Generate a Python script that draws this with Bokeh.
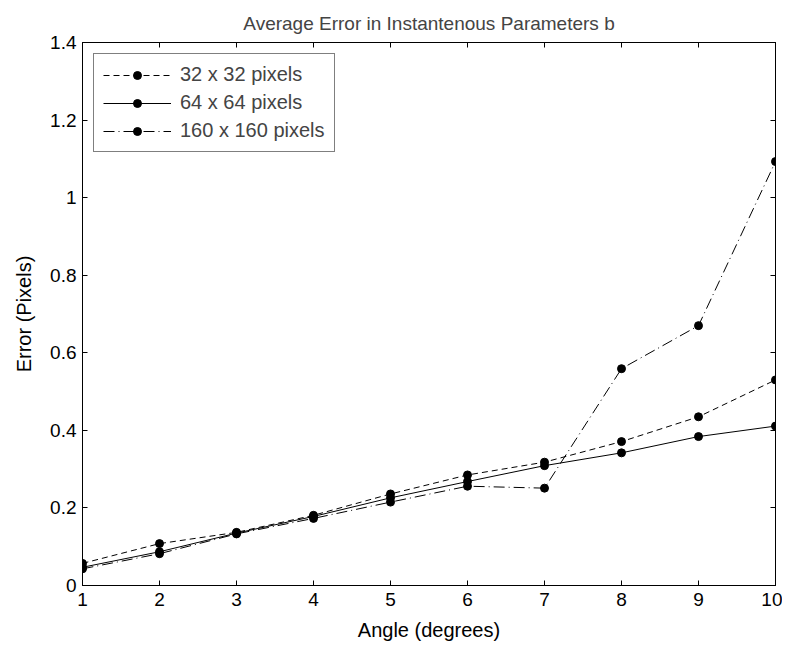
from bokeh.plotting import figure
from bokeh.models import LinearAxis, Range1d, FixedTicker, Legend, LegendItem
from bokeh.embed import file_html
from bokeh.resources import INLINE

angles = [1, 2, 3, 4, 5, 6, 7, 8, 9, 10]
err_32 = [0.057, 0.108, 0.137, 0.181, 0.236, 0.285, 0.318, 0.371, 0.435, 0.530]
err_64 = [0.047, 0.087, 0.135, 0.178, 0.226, 0.268, 0.309, 0.342, 0.384, 0.411]
err_160 = [0.043, 0.082, 0.133, 0.173, 0.215, 0.256, 0.251, 0.559, 0.670, 1.093]

x_ticks = [1, 2, 3, 4, 5, 6, 7, 8, 9, 10]
x_tick_labels = ["1", "2", "3", "4", "5", "6", "7", "8", "9", "10"]
y_ticks = [0, 0.2, 0.4, 0.6, 0.8, 1.0, 1.2, 1.4]
y_tick_labels = ["0", "0.2", "0.4", "0.6", "0.8", "1", "1.2", "1.4"]
title_text = "Average Error in Instantenous Parameters b"

FONT = "Liberation Sans"

p = figure(width=782, height=643, output_backend="svg", toolbar_location=None,
           x_range=Range1d(1, 10), y_range=Range1d(0, 1.4),
           min_border_left=82, min_border_right=7, min_border_top=42, min_border_bottom=55,
           title=title_text)
p.title.align = "center"
p.title.vertical_align = "top"
p.title.text_font = FONT
p.title.text_font_size = "19px"
p.title.text_font_style = "normal"
p.title.offset = 0
p.title.standoff = 14

p.xgrid.visible = False
p.ygrid.visible = False
p.outline_line_color = "black"
p.outline_line_width = 1
p.background_fill_color = "white"

def style_axis(ax, ticks, labels, show_labels=True):
    ax.ticker = FixedTicker(ticks=ticks)
    ax.major_label_overrides = {t: l for t, l in zip(ticks, labels)}
    ax.major_tick_in = 5
    ax.major_tick_out = 0
    ax.minor_tick_in = 0
    ax.minor_tick_out = 0
    ax.axis_line_color = "black"
    ax.major_tick_line_color = "black"
    ax.major_label_text_font = FONT
    ax.major_label_text_font_size = "19px" if show_labels else "0px"
    ax.major_label_text_color = "black"
    ax.axis_label_text_font = FONT
    ax.axis_label_text_font_size = "20px"
    ax.axis_label_text_font_style = "normal"
    ax.axis_label_text_color = "black"

style_axis(p.xaxis[0], x_ticks, x_tick_labels)
style_axis(p.yaxis[0], y_ticks, y_tick_labels)
p.xaxis[0].axis_label = "Angle (degrees)"
p.yaxis[0].axis_label = "Error (Pixels)"
p.xaxis[0].major_label_standoff = 7
p.yaxis[0].major_label_standoff = 6
p.xaxis[0].axis_label_standoff = 10
p.yaxis[0].axis_label_standoff = 12

top_ax = LinearAxis()
right_ax = LinearAxis()
style_axis(top_ax, x_ticks, x_tick_labels, show_labels=False)
style_axis(right_ax, y_ticks, y_tick_labels, show_labels=False)
top_ax.major_label_standoff = 0
right_ax.major_label_standoff = 0
p.add_layout(top_ax, "above")
p.add_layout(right_ax, "right")

l32 = p.line(angles, err_32, line_color="black", line_width=1, line_dash="6 4")
c32 = p.scatter(angles, err_32, size=8, fill_color="black", line_color="black")
l64 = p.line(angles, err_64, line_color="black", line_width=1)
c64 = p.scatter(angles, err_64, size=8, fill_color="black", line_color="black")
l160 = p.line(angles, err_160, line_color="black", line_width=1, line_dash="11 4 1 4")
c160 = p.scatter(angles, err_160, size=8, fill_color="black", line_color="black")

legend = Legend(items=[
    LegendItem(label="32 x 32 pixels", renderers=[l32, c32]),
    LegendItem(label="64 x 64 pixels", renderers=[l64, c64]),
    LegendItem(label="160 x 160 pixels", renderers=[l160, c160]),
], location="top_left")
legend.margin = 11
legend.padding = 9
legend.spacing = 5
legend.glyph_width = 68
legend.glyph_height = 20
legend.label_height = 20
legend.label_standoff = 9
legend.label_text_font = FONT
legend.label_text_font_size = "20px"
legend.border_line_color = "black"
legend.border_line_width = 1
legend.background_fill_alpha = 1
p.add_layout(legend, "center")

open("out.html", "w").write(file_html(p, INLINE))
